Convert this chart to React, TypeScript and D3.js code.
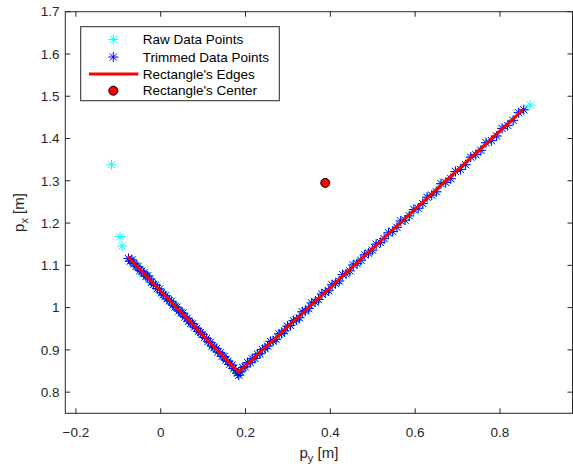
import React from "react";
import * as d3 from "d3";

// Raw-only data points (outliers removed by trimming)
const rawOnlyPy = [-0.116, -0.096, -0.091, 0.871];
const rawOnlyPx = [1.338, 1.168, 1.146, 1.479];

// Trimmed data points
const trimmedPy = [
  -0.076, -0.072, -0.068, -0.063, -0.058, -0.054, -0.049, -0.045, -0.040, -0.035,
  -0.031, -0.026, -0.021, -0.017, -0.012, -0.008, -0.003, 0.002, 0.006, 0.011,
  0.015, 0.020, 0.025, 0.029, 0.034, 0.038, 0.043, 0.048, 0.052, 0.057,
  0.062, 0.066, 0.071, 0.075, 0.080, 0.085, 0.089, 0.094, 0.098, 0.103,
  0.108, 0.112, 0.117, 0.121, 0.126, 0.131, 0.135, 0.140, 0.145, 0.149,
  0.154, 0.158, 0.163, 0.168, 0.172, 0.177, 0.181, 0.184,
  0.188, 0.194, 0.199, 0.205, 0.211, 0.216, 0.222, 0.228, 0.234, 0.240,
  0.246, 0.252, 0.259, 0.265, 0.272, 0.279, 0.285, 0.292, 0.299, 0.306,
  0.313, 0.320, 0.327, 0.334, 0.341, 0.349, 0.356, 0.364, 0.372, 0.380,
  0.388, 0.396, 0.404, 0.412, 0.421, 0.429, 0.437, 0.446, 0.454, 0.463,
  0.472, 0.481, 0.490, 0.499, 0.508, 0.518, 0.527, 0.537, 0.547, 0.557,
  0.566, 0.576, 0.586, 0.597, 0.607, 0.618, 0.628, 0.639, 0.650, 0.661,
  0.672, 0.684, 0.695, 0.707, 0.719, 0.731, 0.743, 0.755, 0.767, 0.780,
  0.792, 0.805, 0.818, 0.831, 0.844, 0.856,
];
const trimmedPx = [
  1.116, 1.110, 1.113, 1.104, 1.098, 1.097, 1.088, 1.086, 1.082, 1.074,
  1.075, 1.068, 1.060, 1.055, 1.053, 1.045, 1.044, 1.035, 1.030, 1.028,
  1.021, 1.016, 1.015, 1.006, 1.002, 1.001, 0.992, 0.988, 0.987, 0.978,
  0.975, 0.968, 0.963, 0.962, 0.954, 0.951, 0.944, 0.941, 0.937, 0.929,
  0.927, 0.920, 0.918, 0.909, 0.906, 0.903, 0.895, 0.893, 0.885, 0.884,
  0.876, 0.873, 0.866, 0.864, 0.856, 0.852, 0.845, 0.840,
  0.848, 0.858, 0.860, 0.870, 0.870, 0.879, 0.880, 0.890, 0.891, 0.901,
  0.903, 0.909, 0.920, 0.921, 0.925, 0.938, 0.939, 0.945, 0.956, 0.958,
  0.969, 0.971, 0.976, 0.990, 0.992, 0.998, 1.011, 1.013, 1.019, 1.032,
  1.036, 1.040, 1.054, 1.057, 1.063, 1.078, 1.080, 1.087, 1.101, 1.104,
  1.112, 1.125, 1.129, 1.136, 1.150, 1.154, 1.163, 1.177, 1.180, 1.190,
  1.205, 1.207, 1.217, 1.232, 1.235, 1.246, 1.261, 1.266, 1.274, 1.293,
  1.296, 1.305, 1.322, 1.327, 1.338, 1.356, 1.362, 1.372, 1.390, 1.395,
  1.406, 1.424, 1.431, 1.443, 1.461, 1.468,
];

// Rectangle edges (polyline vertices)
const edgePy = [-0.078, 0.183, 0.855];
const edgePx = [1.121, 0.847, 1.469];

// Rectangle center
const centerPy = [0.388];
const centerPx = [1.295];

const xTicks = [-0.2, 0, 0.2, 0.4, 0.6, 0.8];
const yTicks = [0.8, 0.9, 1, 1.1, 1.2, 1.3, 1.4, 1.5, 1.6, 1.7];

const legendLabels = [
  "Raw Data Points",
  "Trimmed Data Points",
  "Rectangle's Edges",
  "Rectangle's Center",
];

const W = 573;
const H = 473;
const L = 65.3;
const R = 572.5;
const T = 11.7;
const B = 413.3;
const AX = "#262626";
const FONT = "'Liberation Sans', Arial, Helvetica, sans-serif";

function starPath(r: number) {
  const d = r * 0.7071;
  return `M${-r},0L${r},0M0,${-r}L0,${r}M${-d},${-d}L${d},${d}M${-d},${d}L${d},${-d}`;
}

export default function App() {
  const x = d3.scaleLinear().domain([-0.225, 0.971]).range([L, R]);
  const y = d3.scaleLinear().domain([0.75, 1.7]).range([B, T]);

  const rawPy = [...rawOnlyPy, ...trimmedPy];
  const rawPx = [...rawOnlyPx, ...trimmedPx];

  const line = d3
    .line<number>()
    .x((_, i) => x(edgePy[i]))
    .y((d) => y(d));

  const star = starPath(5);
  const fmt = (v: number) => (v === 0 ? "0" : d3.format("")(+v.toFixed(1)));

  const legX = 80.7;
  const legY = 26.7;
  const legW = 198.6;
  const legH = 74;
  const rowY = [39.5, 57, 74, 90.7];

  return (
    <svg
      width={W}
      height={H}
      style={{ position: "absolute", left: 0, top: 0, background: "#fff" }}
      fontFamily={FONT}
    >
      <rect x={0} y={0} width={W} height={H} fill="#fff" />
      {/* data */}
      <g>
        {rawPy.map((v, i) => (
          <path
            key={"r" + i}
            d={star}
            transform={`translate(${x(v)},${y(rawPx[i])})`}
            stroke="#00ffff"
            strokeWidth={1}
            fill="none"
          />
        ))}
        {trimmedPy.map((v, i) => (
          <path
            key={"t" + i}
            d={star}
            transform={`translate(${x(v)},${y(trimmedPx[i])})`}
            stroke="#0000ff"
            strokeWidth={1}
            fill="none"
          />
        ))}
        <path d={line(edgePx) || ""} stroke="#ff0000" strokeWidth={3} fill="none" strokeLinejoin="round" />
        {centerPy.map((v, i) => (
          <circle key={"c" + i} cx={x(v)} cy={y(centerPx[i])} r={4.5} fill="#ff0000" stroke="#000" strokeWidth={1} />
        ))}
      </g>
      {/* axes box */}
      <rect x={L} y={T} width={R - L} height={B - T} fill="none" stroke={AX} strokeWidth={1} />
      {xTicks.map((t) => (
        <g key={"xt" + t}>
          <line x1={x(t)} x2={x(t)} y1={B} y2={B - 5} stroke={AX} strokeWidth={1} />
          <line x1={x(t)} x2={x(t)} y1={T} y2={T + 5} stroke={AX} strokeWidth={1} />
          <text x={x(t)} y={437} textAnchor="middle" fontSize={13.5} fill={AX}>
            {fmt(t)}
          </text>
        </g>
      ))}
      {yTicks.map((t) => (
        <g key={"yt" + t}>
          <line x1={L} x2={L + 5} y1={y(t)} y2={y(t)} stroke={AX} strokeWidth={1} />
          <line x1={R} x2={R - 5} y1={y(t)} y2={y(t)} stroke={AX} strokeWidth={1} />
          <text x={59.5} y={y(t)} dy="0.35em" textAnchor="end" fontSize={13.5} fill={AX}>
            {fmt(t)}
          </text>
        </g>
      ))}
      {/* axis labels */}
      <text x={(L + R) / 2} y={458} textAnchor="middle" fontSize={15} fill={AX}>
        p<tspan fontSize={11} dy={4}>y</tspan>
        <tspan dy={-4}> [m]</tspan>
      </text>
      <text
        transform={`translate(24,${(T + B) / 2}) rotate(-90)`}
        textAnchor="middle"
        fontSize={15}
        fill={AX}
      >
        p<tspan fontSize={11} dy={4}>x</tspan>
        <tspan dy={-4}> [m]</tspan>
      </text>
      {/* legend */}
      <g>
        <rect x={legX} y={legY} width={legW} height={legH} fill="#fff" stroke={AX} strokeWidth={1} />
        <path d={star} transform={`translate(113.3,${rowY[0]})`} stroke="#00ffff" strokeWidth={1} fill="none" />
        <path d={star} transform={`translate(113.3,${rowY[1]})`} stroke="#0000ff" strokeWidth={1} fill="none" />
        <line x1={89} x2={138.3} y1={rowY[2]} y2={rowY[2]} stroke="#ff0000" strokeWidth={3} />
        <circle cx={113.3} cy={rowY[3]} r={4.5} fill="#ff0000" stroke="#000" strokeWidth={1} />
        {legendLabels.map((s, i) => (
          <text key={s} x={142.7} y={rowY[i]} dy="0.35em" fontSize={13.5} fill="#000">
            {s}
          </text>
        ))}
      </g>
    </svg>
  );
}
